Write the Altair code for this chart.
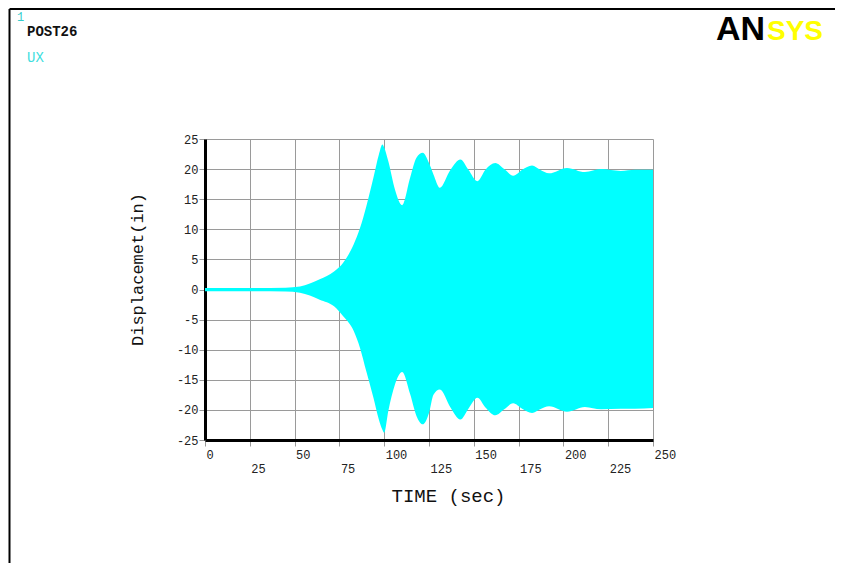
import altair as alt
import pandas as pd

# envelope of the UX response
time_s = [0, 25, 45, 53, 64, 72, 77, 83, 86.5, 90, 94, 97, 99, 100, 102.3, 106, 110, 114.5,
          118, 121.5, 125, 127.5, 131, 137, 142.5, 147, 152, 156.5, 162, 167, 172, 177,
          182.5, 187, 192, 202, 212, 221, 232, 240, 250]
ux_upper = [0.25, 0.25, 0.3, 0.5, 1.7, 3.0, 4.4, 7.5, 10.2, 13.8, 18.6, 22.4, 24.1, 23.6,
            21.3, 16.6, 14.0, 18.6, 21.9, 22.7, 21.0, 19.1, 16.9, 19.9, 21.6, 19.9, 18.0,
            19.9, 21.0, 20.0, 18.9, 19.9, 20.6, 19.9, 19.3, 20.2, 19.5, 20.0, 19.7, 19.9, 19.9]
ux_lower = [-0.3, -0.3, -0.35, -0.55, -1.7, -2.8, -4.4, -6.9, -9.7, -13.6, -18.0, -21.6,
            -23.3, -23.8, -20.2, -15.8, -13.7, -17.4, -21.0, -22.4, -20.5, -17.5, -16.6,
            -19.6, -21.6, -19.8, -18.0, -19.6, -20.9, -19.9, -18.9, -19.8, -20.5, -19.9,
            -19.4, -20.3, -19.5, -19.9, -19.8, -19.8, -19.7]
x_ticks = [0, 25, 50, 75, 100, 125, 150, 175, 200, 225, 250]
y_ticks = [-25, -20, -15, -10, -5, 0, 5, 10, 15, 20, 25]

df = pd.DataFrame({"t": time_s, "upper": ux_upper, "lower": ux_lower})

MONO = "Liberation Mono"
GRID = "#9a9a9a"

x_axis = alt.Axis(
    values=x_ticks, grid=True, gridColor=GRID, gridWidth=1,
    domainColor="black", domainWidth=3, tickColor=GRID, tickSize=6,
    labelAlign="left", labelBaseline="top", labelOffset=1,
    labelPadding={"condition": {"test": "datum.value % 50 !== 0", "value": 17}, "value": 3},
    labelFont=MONO, labelFontSize=12, labelColor="#222", labelExpr="'' + datum.value",
    labelFlush=False, labelOverlap=False,
    title="TIME (sec)", titleFont=MONO, titleFontSize=19, titleFontWeight="normal",
    titleColor="#111", titleX=243, titleY=55, titleAlign="center", titleBaseline="middle",
)
y_axis = alt.Axis(
    values=y_ticks, grid=True, gridColor=GRID, gridWidth=1,
    domainColor="black", domainWidth=3, tickColor=GRID, tickSize=6,
    labelAlign="right", labelBaseline="middle", labelPadding=1,
    labelFont=MONO, labelFontSize=12, labelColor="#222", labelExpr="'' + datum.value",
    labelFlush=False, labelOverlap=False,
    title="Displacemet(in)", titleFont=MONO, titleFontSize=17, titleFontWeight="normal",
    titleColor="#111", titleX=-68, titleY=130, titleAlign="center", titleBaseline="middle",
)

area = alt.Chart(df).mark_area(color="#00FFFF", interpolate="monotone", opacity=1).encode(
    x=alt.X("t:Q", scale=alt.Scale(domain=[0, 250], nice=False, zero=False), axis=x_axis),
    y=alt.Y("upper:Q", scale=alt.Scale(domain=[-25, 25], nice=False, zero=False), axis=y_axis),
    y2="lower:Q",
)

one = alt.Data(values=[{}])
frame_left = alt.Chart(one).mark_rule(color="black", strokeWidth=2).encode(
    x=alt.value(-195.5), y=alt.value(-130), y2=alt.value(424))
frame_top = alt.Chart(one).mark_rule(color="black", strokeWidth=2).encode(
    x=alt.value(-195.5), x2=alt.value(640), y=alt.value(-130))


def label(text, x, y, color, size, font=MONO, weight="normal", baseline="middle"):
    return alt.Chart(one).mark_text(
        text=text, align="left", baseline=baseline, color=color, fontSize=size,
        font=font, fontWeight=weight,
    ).encode(x=alt.value(x), y=alt.value(y))


texts = [
    label("1", -188, -122, "#33cccc", 12),
    label("POST26", -178, -107, "#111", 14, weight="bold"),
    label("UX", -178, -81, "#40dede", 14),
    label("AN", 511, -99, "black", 34, font="Liberation Sans", weight="bold", baseline="alphabetic"),
    label("SYS", 562, -99, "#FFFF00", 28, font="Liberation Sans", weight="bold", baseline="alphabetic"),
]

chart = alt.layer(area, frame_left, frame_top, *texts).properties(
    width=448, height=301,
    autosize=alt.AutoSizeParams(type="none"),
    padding={"left": 197, "top": 131, "right": 182, "bottom": 123},
    background="white",
).configure_view(strokeWidth=0)

chart.save("out.html", embed_options={"renderer": "svg", "actions": False})
